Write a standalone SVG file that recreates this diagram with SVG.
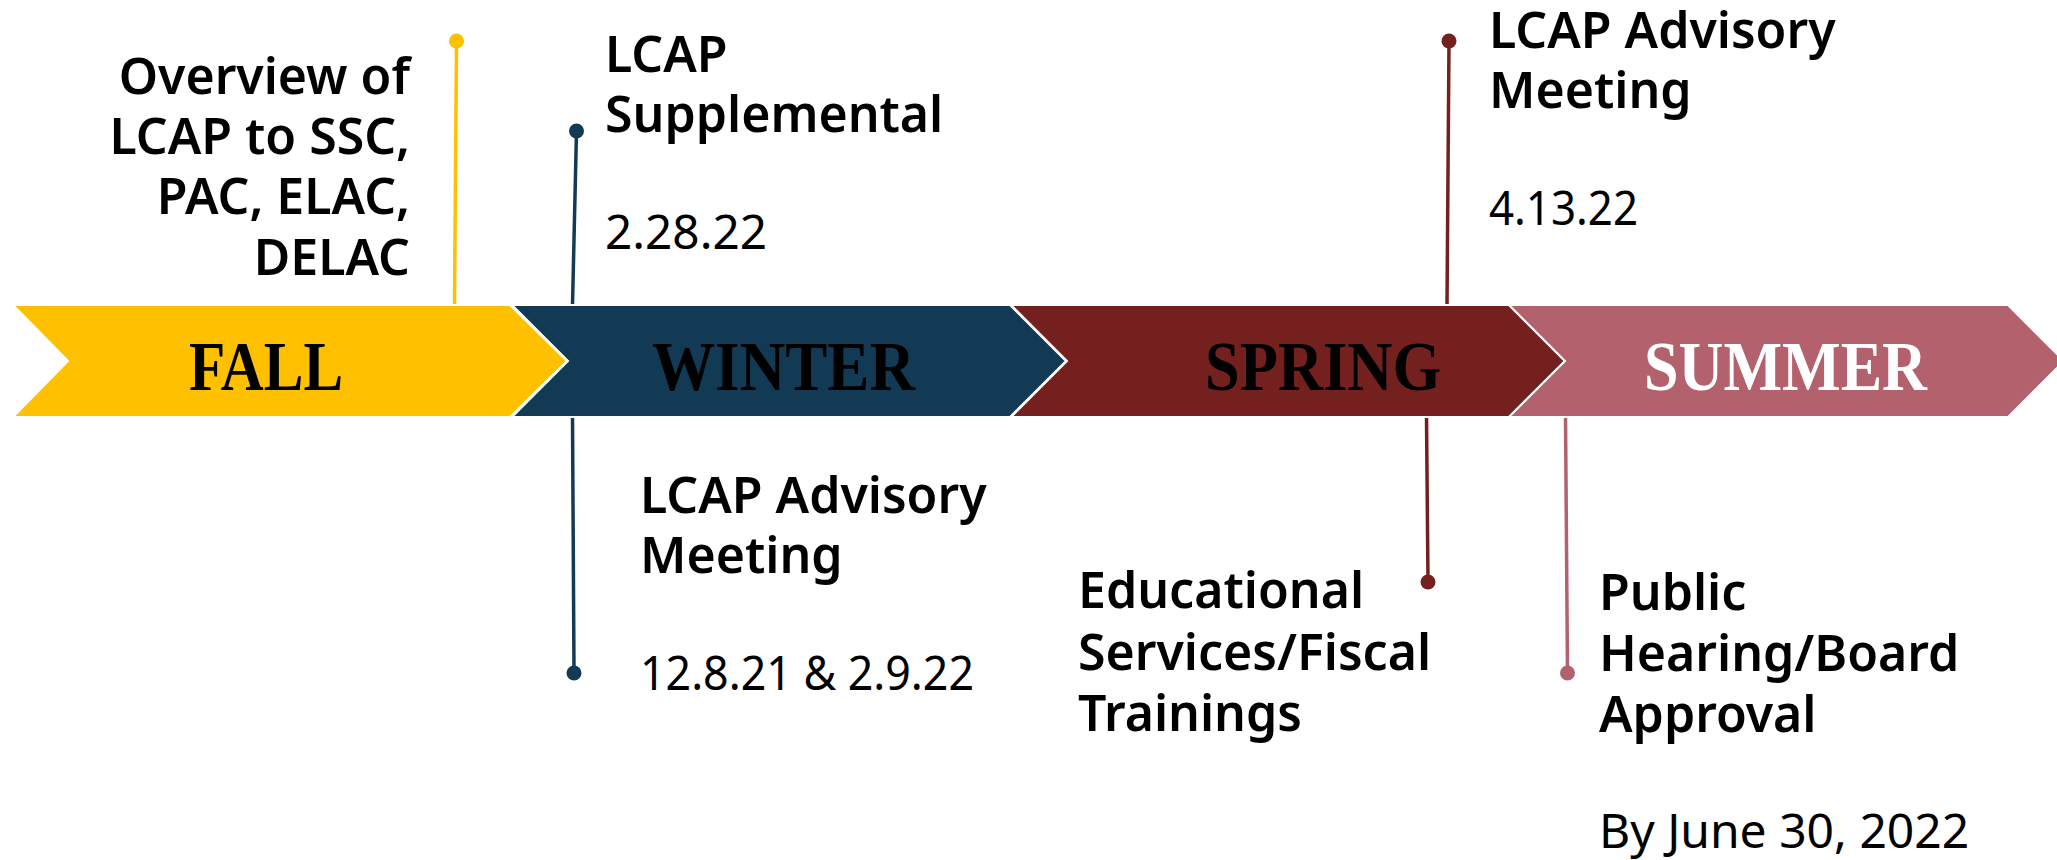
<svg xmlns="http://www.w3.org/2000/svg" width="2057" height="860" viewBox="0 0 2057 860">
<style>
.lbl{font-family:"Noto Sans","Open Sans",sans-serif;font-weight:600;font-size:50px;fill:#000}
.date{font-family:"Noto Sans","Open Sans",sans-serif;font-weight:400;font-size:48px;fill:#000}
.season{font-family:"Liberation Serif","Times New Roman",serif;font-weight:700;font-size:70px}
.chev{stroke:#fff;stroke-width:2}
.conn{fill:none;stroke-width:3.5;stroke-linecap:round}
</style>
<rect width="2057" height="860" fill="#fff"/>
<g id="connectors">
  <line class="conn" x1="456.5" y1="41" x2="454.5" y2="305" stroke="#FFC000"/>
  <circle cx="456.5" cy="41" r="7.5" fill="#FFC000"/>
  <line class="conn" x1="576.5" y1="131" x2="572.5" y2="305" stroke="#133A55"/>
  <circle cx="576.5" cy="131" r="7.5" fill="#133A55"/>
  <line class="conn" x1="572.5" y1="417" x2="574" y2="673" stroke="#133A55"/>
  <circle cx="574" cy="673" r="7.5" fill="#133A55"/>
  <line class="conn" x1="1449" y1="41" x2="1447" y2="305" stroke="#73201F"/>
  <circle cx="1449" cy="41" r="7.5" fill="#73201F"/>
  <line class="conn" x1="1426.5" y1="417" x2="1428" y2="582" stroke="#73201F"/>
  <circle cx="1428" cy="582" r="7.5" fill="#73201F"/>
  <line class="conn" x1="1565.5" y1="417" x2="1567.5" y2="673" stroke="#B3616D"/>
  <circle cx="1567.5" cy="673" r="7.5" fill="#B3616D"/>
</g>
<g id="fall">
  <polygon class="chev" points="13,305 510,305 567,361 510,417 13,417 68,361" fill="#FFC000"/>
  <text class="season" x="189" y="390" textLength="154" lengthAdjust="spacingAndGlyphs" fill="#000">FALL</text>
</g>
<g id="winter">
  <polygon class="chev" points="512,305 1010,305 1066,361 1010,417 512,417 568,361" fill="#133A55"/>
  <text class="season" x="652" y="390" textLength="263" lengthAdjust="spacingAndGlyphs" fill="#000">WINTER</text>
</g>
<g id="spring">
  <polygon class="chev" points="1011,305 1509,305 1565,361 1509,417 1011,417 1067,361" fill="#73201F"/>
  <text class="season" x="1205" y="390" textLength="236" lengthAdjust="spacingAndGlyphs" fill="#000">SPRING</text>
</g>
<g id="summer">
  <polygon class="chev" points="1509,305 2008,305 2064,361 2008,417 1509,417 1565,361" fill="#B3616D"/>
  <text class="season" x="1644" y="390" textLength="283" lengthAdjust="spacingAndGlyphs" fill="#fff">SUMMER</text>
</g>
<g id="event-overview">
  <text class="lbl" text-anchor="end"><tspan x="410" y="94">Overview of</tspan><tspan x="410" y="154">LCAP to SSC,</tspan><tspan x="410" y="214">PAC, ELAC,</tspan><tspan x="410" y="275">DELAC</tspan></text>
</g>
<g id="event-supplemental">
  <text class="lbl"><tspan x="605" y="72">LCAP</tspan><tspan x="605" y="132">Supplemental</tspan></text>
  <text class="date" x="605" y="249" textLength="162" lengthAdjust="spacingAndGlyphs">2.28.22</text>
</g>
<g id="event-advisory-winter">
  <text class="lbl"><tspan x="640" y="513">LCAP Advisory</tspan><tspan x="640" y="573">Meeting</tspan></text>
  <text class="date" x="640" y="690" textLength="334" lengthAdjust="spacingAndGlyphs">12.8.21 &amp; 2.9.22</text>
</g>
<g id="event-advisory-spring">
  <text class="lbl"><tspan x="1489" y="48">LCAP Advisory</tspan><tspan x="1489" y="108">Meeting</tspan></text>
  <text class="date" x="1489" y="225" textLength="149" lengthAdjust="spacingAndGlyphs">4.13.22</text>
</g>
<g id="event-trainings">
  <text class="lbl"><tspan x="1078" y="608">Educational</tspan><tspan x="1078" y="670">Services/Fiscal</tspan><tspan x="1078" y="731">Trainings</tspan></text>
</g>
<g id="event-approval">
  <text class="lbl"><tspan x="1599" y="610">Public</tspan><tspan x="1599" y="671">Hearing/Board</tspan><tspan x="1599" y="732">Approval</tspan></text>
  <text class="date" x="1599" y="848">By June 30, 2022</text>
</g>
</svg>
